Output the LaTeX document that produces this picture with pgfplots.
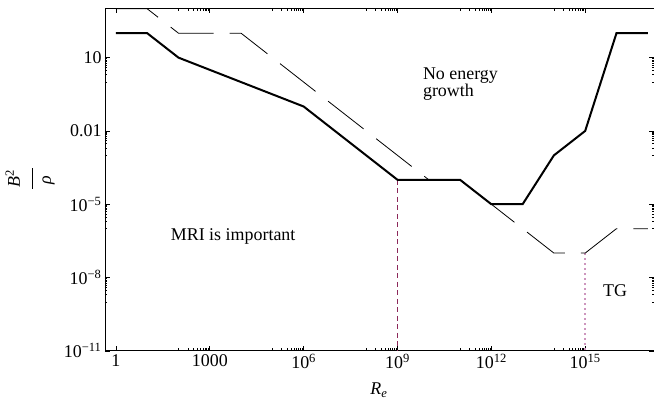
\documentclass[border=0pt]{standalone}
\usepackage{fontspec}
\setmainfont{Liberation Serif}
\usepackage{pgfplots}
\pgfplotsset{compat=1.18}
\definecolor{vdash}{RGB}{140,40,90}
\definecolor{vdot}{RGB}{205,150,190}
\begin{document}
\begin{tikzpicture}[font=\fontsize{18}{21}\selectfont]
\begin{axis}[
  at={(0,0)}, anchor=south west,
  scale only axis, width=549bp, height=342.5bp,
  xmode=log, ymode=log,
  xmin=0.4467, xmax=1.585e17,
  ymin=1e-11, ymax=1047,
  xtick={1,1e3,1e6,1e9,1e12,1e15},
  xticklabels={1,1000,10\textsuperscript{6},10\textsuperscript{9},10\textsuperscript{12},10\textsuperscript{15}},
  ytick={1e-11,1e-8,1e-5,1e-2,10},
  yticklabels={10\textsuperscript{−11},10\textsuperscript{−8},10\textsuperscript{−5},0.01,10},
  minor xtick={100,200,300,400,500,600,700,800,900,
    1e5,2e5,3e5,4e5,5e5,6e5,7e5,8e5,9e5,
    1e8,2e8,3e8,4e8,5e8,6e8,7e8,8e8,9e8,
    1e11,2e11,3e11,4e11,5e11,6e11,7e11,8e11,9e11,
    1e14,2e14,3e14,4e14,5e14,6e14,7e14,8e14,9e14},
  minor ytick={1,2,3,4,5,6,7,8,9,
    1e-3,2e-3,3e-3,4e-3,5e-3,6e-3,7e-3,8e-3,9e-3,
    1e-6,2e-6,3e-6,4e-6,5e-6,6e-6,7e-6,8e-6,9e-6,
    1e-9,2e-9,3e-9,4e-9,5e-9,6e-9,7e-9,8e-9,9e-9},
  major tick length=5bp, minor tick length=2.5bp,
  tick style={black, line width=0.6bp},
  axis line style={line width=0.8bp},
  tick label style={font=\fontsize{18}{21}\selectfont},
]
\addplot[vdash, line width=0.9bp, dash pattern=on 5bp off 3.5bp] coordinates {(1e9,1e-4) (1e9,1e-11)};
\addplot[vdot, line width=1.5bp, dash pattern=on 2bp off 3bp] coordinates {(1e15,1e-7) (1e15,1e-11)};
\addplot[black, line width=0.8bp, dash pattern=on 45bp off 16bp] coordinates {(1,1000) (10,1000) (100,100) (1e4,100) (1e10,1e-4) (1e11,1e-4) (1e14,1e-7) (1e15,1e-7) (1e16,1e-6) (1e17,1e-6)};
\addplot[black, line width=2bp] coordinates {(1,100) (10,100) (100,10) (1e6,0.1) (1e9,1e-4) (1e11,1e-4) (1e12,1e-5) (1e13,1e-5) (1e14,1e-3) (1e15,1e-2) (1e16,100) (1e17,100)};
\node[anchor=base west, inner sep=0] at (axis cs:6.46e9,1.22) {No energy};
\node[anchor=base west, inner sep=0] at (axis cs:6.46e9,0.253) {growth};
\node[anchor=base west, inner sep=0] at (axis cs:56.2,3.24e-7) {MRI is important};
\node[anchor=base west, inner sep=0] at (axis cs:3.72e15,1.62e-9) {TG};
\end{axis}
\node[rotate=90, anchor=base, inner sep=0] at (-85bp,172bp) {\textit{B}\textsuperscript{2}};
\draw[line width=0.8bp] (-73bp,162bp) -- (-73bp,183bp);
\node[rotate=90, anchor=base, inner sep=0] at (-54bp,171bp) {\textit{ρ}};
\node[anchor=base, inner sep=0] at (274bp,-44bp) {\textit{R}\textsubscript{\textit{e}}};
\pgfresetboundingbox
\path[use as bounding box] (-105bp,-50bp) rectangle (549bp,350.8bp);
\end{tikzpicture}
\end{document}
